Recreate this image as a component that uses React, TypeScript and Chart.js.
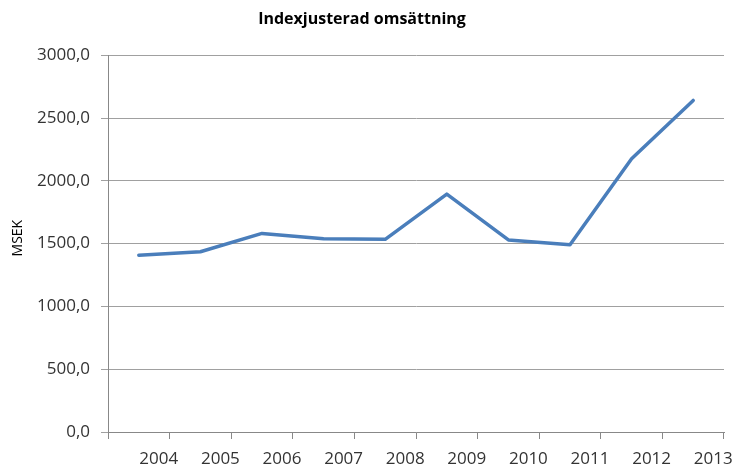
import React, { useEffect, useRef } from "react";
import { Chart, registerables } from "chart.js";

Chart.register(...registerables);

const years = ["2004", "2005", "2006", "2007", "2008", "2009", "2010", "2011", "2012", "2013"];
const turnover = [1408, 1435, 1581, 1538, 1534, 1894, 1529, 1490, 2175, 2640];
const yTicks = [0, 500, 1000, 1500, 2000, 2500, 3000];

const TITLE = "Indexjusterad omsättning";
const Y_TITLE = "MSEK";

export default function App() {
  const ref = useRef<HTMLCanvasElement>(null);

  useEffect(() => {
    document.body.style.margin = "0";
    const ctx = ref.current!.getContext("2d")!;
    const chart = new Chart(ctx, {
      type: "line",
      data: {
        labels: years,
        datasets: [
          {
            data: turnover,
            borderColor: "#4a7ebb",
            borderWidth: 3.5,
            pointRadius: 0,
            tension: 0,
            fill: false,
            borderCapStyle: "round",
            borderJoinStyle: "round",
          },
        ],
      },
      options: {
        responsive: false,
        animation: false,
        layout: { padding: { left: 0, right: 10, top: 0, bottom: 0 } },
        plugins: {
          legend: { display: false },
          tooltip: { enabled: false },
          title: {
            display: true,
            text: TITLE,
            color: "#000",
            font: { family: "'Open Sans'", size: 16, weight: "bold" },
            padding: { top: 10, bottom: 26 },
          },
        },
        scales: {
          x: {
            type: "category",
            offset: true,
            grid: {
              offset: true,
              drawOnChartArea: false,
              drawTicks: true,
              tickLength: 7,
              color: "#888",
            },
            border: { color: "#888", width: 1 },
            ticks: {
              color: "#333",
              font: { family: "'Open Sans'", size: 17 },
              padding: 10,
              labelOffset: 20,
              autoSkip: false,
              maxRotation: 0,
            },
            afterFit: (s: any) => {
              s.height = 36;
            },
          },
          y: {
            min: 0,
            max: 3000,
            afterBuildTicks: (s: any) => {
              s.ticks = yTicks.map((v) => ({ value: v }));
            },
            grid: {
              color: "#a0a0a0",
              tickLength: 7,
              drawTicks: true,
            },
            border: { color: "#888", width: 1 },
            ticks: {
              color: "#333",
              font: { family: "'Open Sans'", size: 17 },
              padding: 11,
              callback: (v: any) => Number(v).toFixed(1).replace(".", ","),
            },
            title: {
              display: true,
              text: "   " + Y_TITLE,
              color: "#000",
              font: { family: "'Open Sans'", size: 14 },
              padding: { top: 10, bottom: 0 },
            },
            afterFit: (s: any) => {
              s.width = 108;
            },
          },
        },
      },
    });
    return () => chart.destroy();
  }, []);

  return (
    <div style={{ position: "absolute", left: 0, top: 0, width: 734, height: 468, background: "#fff" }}>
      <canvas ref={ref} width={734} height={468} />
    </div>
  );
}
